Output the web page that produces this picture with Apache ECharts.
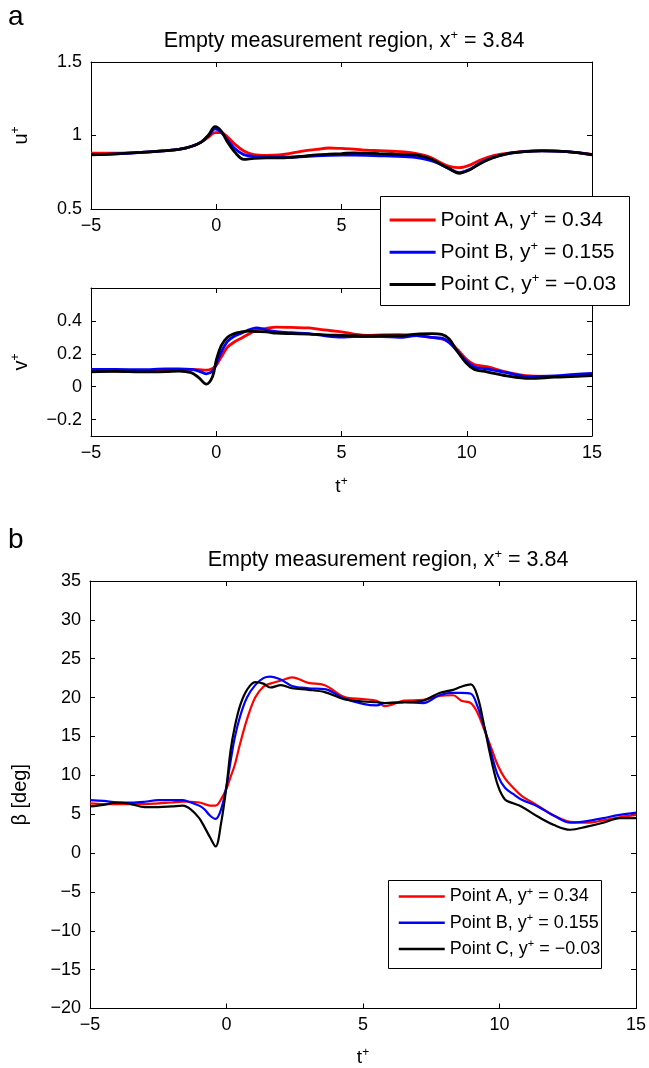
<!DOCTYPE html>
<html><head><meta charset="utf-8">
<script src="https://cdn.jsdelivr.net/npm/echarts@6/dist/echarts.min.js"></script>
<style>html,body{margin:0;padding:0;background:#fff}#c{width:649px;height:1068px}</style>
</head><body><div id="c"></div>
<script>
// ---------- data ----------
const seriesKeys = ['A', 'B', 'C'];
const legendParts = [['Point A, y', '+', ' = 0.34'], ['Point B, y', '+', ' = 0.155'], ['Point C, y', '+', ' = \u22120.03']];
const xTicks = [-5, 0, 5, 10, 15];
const uTicks = [0.5, 1, 1.5];
const vTicks = [-0.2, 0, 0.2, 0.4];
const betaTicks = [-20, -15, -10, -5, 0, 5, 10, 15, 20, 25, 30, 35];

const tU = [-5,-4,-3,-2,-1.5,-1,-0.6,-0.3,-0.05,0.2,0.45,0.75,1.1,1.5,2,2.5,3,3.5,4,4.5,5,5.5,6,6.5,7,7.5,8,8.5,8.9,9.3,9.7,10.1,10.5,11,11.6,12.3,13,14,15];
const uA = [0.88,0.88,0.885,0.897,0.905,0.925,0.955,0.99,1.02,1.02,0.99,0.94,0.895,0.87,0.865,0.868,0.88,0.895,0.905,0.915,0.912,0.908,0.9,0.897,0.893,0.888,0.876,0.855,0.82,0.79,0.781,0.797,0.83,0.86,0.878,0.892,0.897,0.89,0.872];
const uB = [0.87,0.875,0.885,0.897,0.905,0.925,0.955,1.0,1.045,1.02,0.97,0.91,0.87,0.858,0.855,0.852,0.852,0.857,0.862,0.865,0.866,0.866,0.865,0.862,0.86,0.856,0.85,0.832,0.808,0.772,0.748,0.768,0.81,0.848,0.875,0.89,0.895,0.89,0.87];
const uC = [0.868,0.875,0.885,0.897,0.905,0.925,0.955,1.005,1.06,1.03,0.955,0.885,0.838,0.845,0.848,0.848,0.852,0.86,0.868,0.873,0.877,0.882,0.88,0.877,0.874,0.87,0.866,0.845,0.81,0.775,0.743,0.765,0.805,0.845,0.875,0.89,0.895,0.89,0.869];

const tV = [-5,-4,-3,-2,-1.5,-1,-0.7,-0.4,-0.15,0,0.2,0.45,0.7,1.0,1.3,1.6,2.0,2.4,3.0,3.7,4.3,5.0,5.5,6.0,6.6,7.3,8.0,8.6,9.0,9.3,9.6,10.0,10.3,10.8,11.6,12.5,13.5,14.3,15];
const vA = [0.10,0.095,0.095,0.10,0.105,0.105,0.103,0.10,0.11,0.13,0.18,0.24,0.27,0.295,0.32,0.345,0.355,0.362,0.36,0.357,0.345,0.333,0.32,0.312,0.315,0.316,0.31,0.3,0.29,0.272,0.23,0.165,0.135,0.122,0.088,0.065,0.062,0.065,0.07];
const vB = [0.105,0.105,0.103,0.108,0.108,0.105,0.095,0.078,0.095,0.14,0.21,0.275,0.305,0.325,0.345,0.358,0.345,0.335,0.328,0.322,0.31,0.302,0.305,0.305,0.305,0.3,0.31,0.3,0.295,0.268,0.22,0.155,0.12,0.108,0.085,0.06,0.065,0.075,0.08];
const vC = [0.09,0.093,0.09,0.092,0.095,0.085,0.055,0.015,0.06,0.16,0.25,0.30,0.322,0.333,0.338,0.335,0.333,0.325,0.322,0.32,0.315,0.312,0.31,0.308,0.31,0.31,0.32,0.322,0.318,0.29,0.22,0.14,0.105,0.09,0.065,0.05,0.058,0.062,0.067];

const tB = [-5,-4.5,-4,-3.5,-3,-2.5,-2,-1.6,-1.3,-1.0,-0.8,-0.6,-0.4,-0.2,0,0.15,0.3,0.5,0.75,1.05,1.35,1.6,2.0,2.4,3.0,3.6,4.3,5.0,5.5,5.8,6.5,7.2,7.8,8.3,8.6,8.95,9.2,9.45,9.7,9.95,10.2,10.5,10.8,11.4,12.0,12.6,13.2,13.8,14.4,15];
const bA = [6.4,6.3,6.3,6.3,6.3,6.4,6.5,6.6,6.6,6.5,6.3,6.1,6.1,6.9,8.3,9.8,11.3,14.1,17.2,20.0,21.4,21.8,22.2,22.6,21.9,21.6,20.1,19.8,19.6,18.9,19.6,19.7,20.2,20.3,19.6,19.3,18.0,15.8,13.5,11.2,9.6,8.4,7.4,6.1,4.8,4.0,3.9,4.2,4.6,4.9];
const bB = [6.8,6.7,6.5,6.5,6.6,6.8,6.8,6.8,6.5,6.1,5.6,4.8,4.4,5.6,8.6,11.8,14.8,17.6,20.0,21.6,22.5,22.7,22.3,21.5,21.2,21.1,19.9,19.2,19.0,19.3,19.4,19.3,20.3,20.6,20.6,20.5,18.8,16.1,12.8,9.9,8.4,7.6,6.9,6.0,4.8,3.9,4.1,4.5,4.9,5.2];
const bC = [6.0,6.2,6.5,6.3,5.9,5.9,6.0,6.1,5.6,4.5,3.3,2.0,0.85,3.8,8.6,13.2,16.2,19.0,21.0,22.0,21.8,21.3,21.6,21.2,21.0,20.7,19.8,19.5,19.4,19.3,19.4,19.6,20.6,21.0,21.4,21.7,20.1,16.2,12.0,8.6,6.9,6.4,6.0,4.7,3.6,3.0,3.4,3.9,4.5,4.5];

// ---------- chart ----------
const FONT = '"Liberation Sans", Arial, Helvetica, sans-serif';
const COLORS = { A: '#ff0000', B: '#0000ff', C: '#000000' };
const pairs = (t, v) => t.map((x, i) => [x, v[i]]);
const fmt = v => String(v).replace('-', '\u2212');
const supRich = (fs) => ({
  n: { fontSize: fs, fontFamily: FONT, fontWeight: 'normal', color: '#000', lineHeight: fs + 3 },
  s: { fontSize: Math.round(fs * 0.62), fontFamily: FONT, fontWeight: 'normal', color: '#000', verticalAlign: 'top', lineHeight: Math.round(fs * 0.62) }
});

const grids = [
  { left: 91, top: 62, width: 501, height: 147 },
  { left: 91, top: 288, width: 501, height: 148 },
  { left: 90, top: 581, width: 551, height: 428 }
];

const lineAxis = { show: true, onZero: false, lineStyle: { color: '#000', width: 1 } };
const tickIn = (vals) => Object.assign({ show: true, inside: true, length: 5, lineStyle: { color: '#000', width: 1 } }, vals ? { customValues: vals } : {});

const xAxis = [], yAxis = [];
const yCfg = [
  { min: 0.5, max: 1.5, interval: 0.5, ticks: uTicks, name: '{n|u}{s|+}', gap: 58, custom: false },
  { min: -0.3, max: 0.6, ticks: vTicks, name: '{n|v}{s|+}', gap: 58, custom: true },
  { min: -20, max: 35, interval: 5, ticks: betaTicks, name: '{n|\u03b2 [deg]}', gap: 58, custom: false }
];
grids.forEach((g, i) => {
  const xName = i === 0 ? '' : '{n|t}{s|+}';
  xAxis.push({
    gridIndex: i, type: 'value', min: xTicks[0], max: xTicks[xTicks.length - 1], interval: 5, position: 'bottom',
    axisLine: lineAxis, axisTick: tickIn(), splitLine: { show: false },
    axisLabel: { color: '#000', fontSize: 18, fontFamily: FONT, margin: 8, formatter: fmt },
    name: xName, nameLocation: 'middle', nameGap: i === 1 ? 40 : 38,
    nameTextStyle: { rich: supRich(19) }
  });
  xAxis.push({
    gridIndex: i, type: 'value', min: xTicks[0], max: xTicks[xTicks.length - 1], interval: 5, position: 'top',
    axisLine: lineAxis, axisTick: tickIn(), splitLine: { show: false }, axisLabel: { show: false }
  });
  const c = yCfg[i];
  const base = { gridIndex: i, type: 'value', min: c.min, max: c.max, splitLine: { show: false }, axisLine: lineAxis };
  if (!c.custom) base.interval = c.interval;
  yAxis.push(Object.assign({}, base, {
    position: 'left',
    axisTick: tickIn(c.custom ? c.ticks : null),
    axisLabel: Object.assign({ color: '#000', fontSize: 18, fontFamily: FONT, margin: 9, formatter: fmt }, c.custom ? { customValues: c.ticks } : {}),
    name: c.name, nameLocation: 'middle', nameRotate: 90, nameGap: c.gap,
    nameTextStyle: { rich: supRich(20) }
  }));
  yAxis.push(Object.assign({}, base, {
    position: 'right',
    axisTick: tickIn(c.custom ? c.ticks : null),
    axisLabel: { show: false }
  }));
});

const panelData = [
  { t: tU, A: uA, B: uB, C: uC, w: 2.8 },
  { t: tV, A: vA, B: vB, C: vC, w: 2.8 },
  { t: tB, A: bA, B: bB, C: bC, w: 2.2 }
];
const series = [];
panelData.forEach((p, i) => {
  seriesKeys.forEach(k => {
    series.push({
      name: k, type: 'line', xAxisIndex: 2 * i, yAxisIndex: 2 * i,
      data: pairs(p.t, p[k]), showSymbol: false, symbol: 'none', smooth: 0.35,
      lineStyle: { color: COLORS[k], width: p.w }, itemStyle: { color: COLORS[k] },
      emphasis: { disabled: true }, animation: false, z: 2
    });
  });
});

const legendFmt = name => {
  const p = legendParts[seriesKeys.indexOf(name)];
  return '{n|' + p[0] + '}{s|' + p[1] + '}{n|' + p[2] + '}';
};
const legend = [
  { data: seriesKeys, orient: 'vertical', left: 389.6, top: 208, padding: 0, itemGap: 9.7,
    itemWidth: 46, itemHeight: 3, icon: 'rect', selectedMode: false, z: 20,
    formatter: legendFmt, textStyle: { rich: supRich(21) } },
  { data: seriesKeys, orient: 'vertical', left: 398.75, top: 886, padding: 0, itemGap: 6.8,
    itemWidth: 46, itemHeight: 2.5, icon: 'rect', selectedMode: false, z: 20,
    formatter: legendFmt, textStyle: { rich: supRich(18) } }
];

const titleRich = supRich(21.5);
const option = {
  animation: false,
  backgroundColor: '#fff',
  textStyle: { fontFamily: FONT },
  title: [
    { text: '{n|Empty measurement region, x}{s|+}{n| = 3.84}', left: 344, top: 29, textAlign: 'center', padding: 0, textStyle: { fontWeight: 'normal', rich: titleRich } },
    { text: '{n|Empty measurement region, x}{s|+}{n| = 3.84}', left: 388, top: 548, textAlign: 'center', padding: 0, textStyle: { fontWeight: 'normal', rich: titleRich } },
    { text: 'a', left: 8, top: 3, padding: 0, textStyle: { fontSize: 28, fontWeight: 'normal', fontFamily: FONT, color: '#000' } },
    { text: 'b', left: 8, top: 526, padding: 0, textStyle: { fontSize: 28, fontWeight: 'normal', fontFamily: FONT, color: '#000' } }
  ],
  grid: grids,
  xAxis, yAxis, series, legend,
  graphic: [
    { type: 'rect', left: 380, top: 196, z: 15, shape: { width: 249, height: 109 }, style: { fill: '#fff', stroke: '#000', lineWidth: 1 } },
    { type: 'rect', left: 388, top: 880, z: 15, shape: { width: 213, height: 88 }, style: { fill: '#fff', stroke: '#000', lineWidth: 1 } }
  ]
};
const chart = echarts.init(document.getElementById('c'));
chart.setOption(option);
</script>
</body></html>
